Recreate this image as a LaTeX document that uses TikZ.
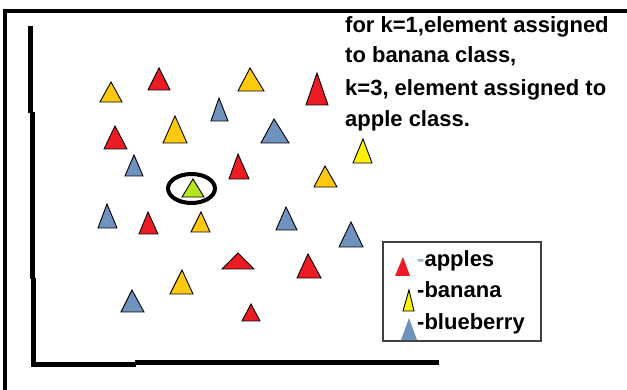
\documentclass[tikz,border=0pt]{standalone}
\usepackage{fontspec}
\setmainfont{Liberation Sans}
\begin{document}
\definecolor{applered}{HTML}{ED1C24}
\definecolor{bananagold}{HTML}{FFC90E}
\definecolor{berryblue}{HTML}{7092BE}
\definecolor{limegreen}{HTML}{B5E61D}
\definecolor{lemon}{HTML}{FFF200}
\newcommand\drawfruit[4]{\filldraw[fruit, fill=#1] (#2) -- (#3) -- (#4) -- cycle;}
\begin{tikzpicture}[x=1pt, y=-1pt,
  fruit/.style={draw=black, line width=0.9pt, line join=miter},
  axis/.style={draw=black, line width=5pt},
  frame/.style={draw=black, line width=4pt, line join=miter},
  note/.style={font=\bfseries\fontsize{22}{26}\selectfont, anchor=base west, inner sep=0pt},
  legendbox/.style={draw=black!75, line width=1.3pt}]
\useasboundingbox (0,0) rectangle (627,390);
\fill[white] (0,0) rectangle (627,390);

% outer frame
\draw[frame] (5,392) -- (5,11) -- (629,11);

% plot axes
\draw[axis] (30.5,26) -- (30.5,113);
\draw[axis] (32,112) -- (32,279);
\draw[axis, line join=miter] (33.5,278) -- (33.5,364) -- (136,364);
\draw[axis] (135,362.5) -- (439,362.5);

% data points
\drawfruit{bananagold}{111,82}{100,102}{122,102}
\drawfruit{applered}{159,68}{148,90}{170,90}
\drawfruit{bananagold}{250,68}{238,91}{264,91}
\drawfruit{applered}{317,73}{306,105}{328,105}
\drawfruit{berryblue}{219,98}{211,121}{228,121}
\drawfruit{applered}{115,126}{104,149}{127,149}
\drawfruit{bananagold}{175,116}{163,143}{187,143}
\drawfruit{berryblue}{274,119}{261,143}{289,143}
\drawfruit{berryblue}{134,155}{125,176}{143,176}
\drawfruit{applered}{238,154}{229,179}{249,179}
\drawfruit{berryblue}{107,204}{98,228}{117,228}
\drawfruit{applered}{148,212}{139,234}{158,234}
\drawfruit{bananagold}{201,212}{191,232}{210,232}
\drawfruit{berryblue}{286,207}{276,230}{297,230}
\drawfruit{applered}{238,253}{222,269}{254,269}
\drawfruit{applered}{308,254}{297,278}{321,278}
\drawfruit{bananagold}{182,270}{170,294}{193,294}
\drawfruit{berryblue}{132,290}{121,312}{144,312}
\drawfruit{applered}{251,304}{242,321}{260,321}
\drawfruit{lemon}{363,139}{353,163}{372,163}
\drawfruit{bananagold}{325,166}{314,187}{337,187}
\drawfruit{berryblue}{351,222}{339,247}{363,247}

% query element and its circle
\drawfruit{limegreen}{193,179}{182,197}{204,197}
\draw[line width=4pt] (191.5,188.5) ellipse [x radius=23.5, y radius=14.5];

% explanation
\node[note] (l1) at (345,33) {for k=1,element assigned};
\node[note] (l2) at (345,63) {to banana class,};
\node[note] (l3) at (345,96) {k=3, element assigned to};
\node[note] (l4) at (345,127) {apple class.};

% legend
\draw[legendbox] (383,242) rectangle (541,341);
\fill[applered] (403,257) -- (395,276) -- (410,276) -- cycle;
\drawfruit{lemon}{409,290}{403,311}{414,311}
\fill[berryblue] (409,318) -- (401,340) -- (417,340) -- cycle;
\node[note] (ka) at (417,267) {\textcolor{berryblue!70}{-}apples};
\node[note] (kb) at (417,298) {-banana};
\node[note] (kc) at (417,330) {-blueberry};
\end{tikzpicture}
\end{document}
